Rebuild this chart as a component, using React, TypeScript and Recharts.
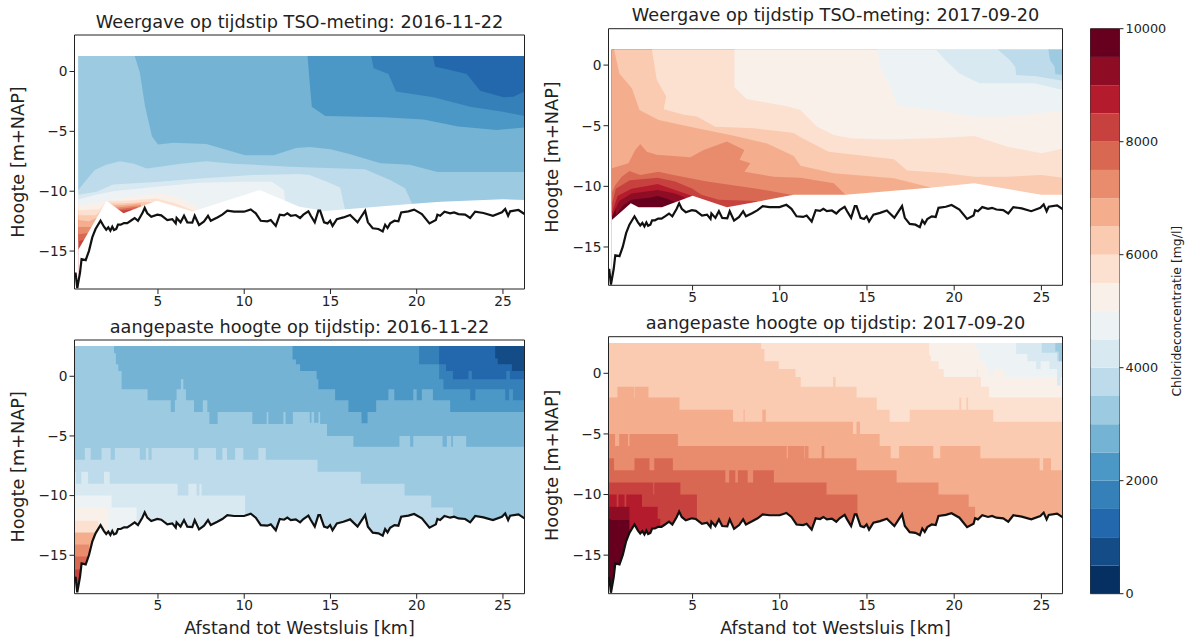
import { Area, Bar, BarChart, ComposedChart, Line, ReferenceArea, XAxis, YAxis } from 'recharts';

type Pt = [number, number];

const WIDTH = 1192;
const HEIGHT = 643;
const FONT = '"DejaVu Sans", sans-serif';
const INK = '#222';

// RdBu_r, 20 levels of 500 mg/l
const LEVEL_COLORS = [
  '#053061', '#144c88', '#2368ad', '#3580b9', '#4b98c6', '#75b3d4', '#9ccae1', '#bddbea', '#d9e9f1', '#edf2f5',
  '#f9f0ea', '#fce1d1', '#facab1', '#f5ae8d', '#e98c6e', '#d96853', '#c7423f', '#b41c2d', '#8e0d25', '#67001f',
];
const COLORBAR_STEP = [500];
const COLORBAR_TICKS = [0, 2000, 4000, 6000, 8000, 10000];
const X_TICKS = [5, 10, 15, 20, 25];
const Y_TICKS = [0, -5, -10, -15];

const FLOOR = -18.1; // contour runs down to the bed

const bed: Pt[] = [
  [0.18, -17.2], [0.22, -16.8], [0.32, -18.1], [0.48, -16.8], [0.57, -15.68], [0.81, -15.76], [1.0, -14.98], [1.19, -13.86],
  [1.38, -13.16], [1.67, -12.47], [1.87, -12.97], [2.0, -13.22], [2.12, -13.02], [2.24, -13.3], [2.35, -12.97], [2.45, -13.25],
  [2.58, -13.16], [2.68, -12.8], [2.84, -12.8], [3.03, -12.66], [3.22, -12.66], [3.42, -12.47], [3.65, -12.24], [3.84, -12.47],
  [4.09, -11.85], [4.23, -11.4], [4.38, -11.85], [4.61, -12.13], [4.96, -11.96], [5.19, -12.02], [5.54, -12.41], [5.83, -12.33],
  [6.03, -12.69], [6.08, -12.24], [6.31, -12.6], [6.51, -12.05], [6.7, -12.6], [6.99, -12.63], [7.13, -12.05], [7.38, -12.83],
  [7.67, -12.52], [7.9, -12.05], [8.06, -12.47], [8.44, -12.19], [8.73, -11.96], [9.02, -11.63], [9.41, -11.71], [9.99, -11.71],
  [10.38, -11.52], [10.67, -11.85], [10.96, -12.47], [11.34, -12.52], [11.54, -12.41], [11.83, -12.9], [12.06, -11.96],
  [12.31, -12.02], [12.5, -11.85], [12.7, -12.05], [12.99, -11.99], [13.24, -12.24], [13.43, -11.96], [13.72, -11.68],
  [13.86, -12.05], [14.09, -12.6], [14.3, -11.63], [14.4, -11.63], [14.63, -12.6], [14.83, -12.69], [14.98, -12.47], [15.12, -12.9],
  [15.37, -12.33], [15.75, -12.19], [16.14, -11.99], [16.57, -12.6], [17.01, -11.63], [17.17, -12.6], [17.45, -13.1], [17.78, -13.16],
  [18.03, -13.36], [18.17, -12.8], [18.31, -13.08], [18.46, -12.69], [18.71, -12.47], [18.94, -12.52], [19.1, -11.77], [19.52, -11.68],
  [19.85, -11.54], [20.3, -11.91], [20.74, -12.69], [21.11, -12.41], [21.2, -11.96], [21.36, -12.05], [21.61, -11.71], [21.94, -11.85],
  [22.17, -11.77], [22.42, -11.91], [22.81, -11.96], [23.1, -12.24], [23.39, -11.71], [23.87, -11.82], [24.42, -12.05], [24.94, -11.77],
  [25.13, -11.49], [25.3, -12.05], [25.42, -11.68], [25.9, -11.57], [26.25, -11.91],
];

// lower edge of the interpolated grid in the top panels
const hull2016: Pt[] = [
  [0.38, -14.9], [2.02, -10.8], [3, -11.85], [4.92, -10.8], [7, -11.7], [10.9, -9.9], [13.2, -11.3], [14.7, -11.66],
  [19.6, -11.07], [21.4, -10.88], [25, -10.68], [26.25, -10.74],
];
const hull2017: Pt[] = [
  [0.37, -12.77], [1.46, -11.4], [1.9, -11.73], [3.24, -11.73], [5, -10.77], [6.97, -11.73], [10.8, -10.7], [13.77, -10.7],
  [18.76, -10.1], [21.15, -9.75], [25, -10.7], [26.25, -10.7],
];

// 2016 measured: contour lower edges per colour level
const tl2: Pt[] = [[20.94, 1.3], [21.07, 0.4], [21.75, 0.18], [22.9, -0.2], [23.68, -1.6], [25.03, -2.16], [25.6, -2.1], [26.25, -1.68]];
const tl3: Pt[] = [[17.36, 1.3], [17.5, 0.27], [18.36, -0.2], [18.8, -1.68], [20.97, -2.16], [23.1, -2.94], [25, -3.36], [26.25, -3.72]];
const tl4: Pt[] = [[13.67, 1.3], [13.8, -1], [13.92, -2.94], [14.7, -3.72], [18.07, -3.83], [20.4, -4], [22.4, -4.6], [24.65, -4.89], [26.25, -4.67]];
const tl5: Pt[] = [
  [3.65, 1.3], [3.95, -0.1], [4.25, -2.9], [4.65, -5.4], [5, -6.1], [5.9, -5.95], [7.8, -6.05], [10.05, -7], [11.7, -7], [13, -6.4],
  [13.8, -6.3], [15, -6.5], [16.1, -6.9], [17.9, -7.67], [19.6, -7.8], [21.2, -8.4], [26.25, -8.4],
];
const tl6: Pt[] = [
  [0.38, -9.9], [0.82, -9.1], [1.35, -8.2], [2, -7.8], [2.8, -7.5], [3.6, -7.7], [4.35, -8.1], [5.1, -7.95], [6.3, -7.7], [7.8, -7.5],
  [9.4, -7.7], [12.66, -7.95], [17, -8.17], [18.46, -9.07], [19.33, -9.76], [19.72, -11], [19.75, FLOOR], [26.25, FLOOR],
];
const tl7: Pt[] = [
  [0.38, -10.3], [1.44, -10.04], [2.4, -9.43], [5.1, -9.2], [7.4, -8.93], [10.5, -8.65], [13.2, -8.56], [13.8, -8.65], [14.8, -9.2],
  [15.56, -9.68], [15.85, -11.6], [15.9, FLOOR], [26.25, FLOOR],
];
const tl8: Pt[] = [[0.38, -10.7], [1.4, -10.3], [2.4, -10], [5.1, -9.6], [7.4, -9.3], [10, -9.2], [11.6, -9.2], [12.3, -9.9], [12.4, -11.1], [12.45, FLOOR], [26.25, FLOOR]];
const tl9: Pt[] = [[0.38, -11.2], [1.4, -11], [2, -10.8], [3, -10.55], [5, -10.2], [6, -10.4], [7.3, -11.3], [7.4, FLOOR], [26.25, FLOOR]];
const tl10: Pt[] = [[0.38, -11.6], [1.6, -11.5], [2.1, -10.8], [3, -10.8], [4.9, -10.6], [6, -11], [7.2, -11.7], [7.3, FLOOR], [26.25, FLOOR]];
const tl11: Pt[] = [[0.38, -12], [1.4, -12], [2.1, -11], [3, -11], [4.2, -10.9], [5, -10.9], [5.4, FLOOR], [26.25, FLOOR]];
const tl12: Pt[] = [[0.38, -12.4], [1, -12.5], [1.5, -12.2], [2.2, -11.2], [3, -11.15], [4, -11], [4.7, FLOOR], [26.25, FLOOR]];
const tl13: Pt[] = [[0.38, -13], [1.1, -13], [2.3, -11.4], [3, -11.3], [4, -11.15], [4.4, FLOOR], [26.25, FLOOR]];
const tl14: Pt[] = [[0.38, -13.6], [1, -13.5], [2.5, -11.5], [3, -11.45], [3.8, -11.3], [4.1, FLOOR], [26.25, FLOOR]];
const tl15: Pt[] = [[0.38, -14.2], [0.8, -14], [2.6, -11.6], [3, -11.6], [3.5, -11.5], [3.7, FLOOR], [26.25, FLOOR]];
const tl16: Pt[] = [[0.38, FLOOR], [26.25, FLOOR]];

// 2017 measured
const tr6: Pt[] = [[25.4, 1.29], [25.5, 0.4], [25.75, -0.1], [25.8, -0.75], [26.25, -0.8]];
const tr7: Pt[] = [[22.5, 1.29], [23.2, 0.4], [23.5, -0.14], [23.55, -0.82], [24.6, -0.9], [26.25, -1.3]];
const tr8: Pt[] = [[18.95, 1.29], [19.5, 0.4], [20.3, -0.7], [21.44, -1.5], [24.6, -1.5], [26.25, -2.06]];
const tr9: Pt[] = [[15.6, 1.29], [15.8, -0.4], [16.27, -1.5], [16.75, -3.35], [18.85, -3.7], [21.15, -4.26], [23.07, -4.26], [26.25, -3.76]];
const tr10: Pt[] = [
  [7.4, 1.29], [7.4, -1.8], [8.1, -2.8], [10.4, -3.4], [11.19, -3.7], [12.15, -5.08], [13.1, -5.77], [14.06, -6.04], [16, -6.13],
  [18.85, -6.04], [21.15, -5.85], [23.07, -6.73], [25, -7.28], [26.25, -6.87],
];
const tr11: Pt[] = [
  [2.67, 1.29], [2.95, -1.24], [3.49, -2.6], [3.34, -3.65], [4.5, -4.1], [5.25, -4.25], [6.3, -5.08], [8.5, -5.2], [10.8, -5.6],
  [11.19, -5.96], [12.8, -7.14], [16.55, -7.77], [17.3, -8.7], [19.4, -8.9], [21.15, -9.2], [23.07, -9.2], [25, -9.07], [26.25, -9.3],
];
const tr12: Pt[] = [
  [0.5, 1.29], [0.8, -0.7], [1.52, -1.92], [1.96, -3.7], [3.05, -4.53], [5.25, -5.2], [7.17, -5.77], [9.27, -6.46], [10.8, -7.5], [11.19, -8.3],
  [13.1, -8.93], [16.55, -9.34], [18.66, -10.1], [18.7, FLOOR], [26.25, FLOOR],
];
const tr13: Pt[] = [
  [0.37, -8.5], [1.32, -8.1], [1.71, -7], [2, -6.5], [2.38, -7.14], [2.95, -7.4], [4.87, -7.6], [5.63, -7], [6.97, -6.3], [7.97, -7],
  [7.7, -7.8], [8.32, -8.1], [7.97, -8.8], [9.66, -9.2], [11.19, -9.3], [13.1, -9.75], [13.77, -10.7], [13.8, FLOOR], [26.25, FLOOR],
];
const tr14: Pt[] = [[0.37, -10.5], [0.56, -9.9], [0.94, -9.2], [1.38, -8.74], [2, -9.07], [3.05, -8.8], [3.91, -9.07], [5.83, -9.6], [8.7, -10.2], [10.9, -10.75], [10.95, FLOOR], [26.25, FLOOR]];
const tr15: Pt[] = [[0.37, -11.5], [0.6, -10.2], [1.4, -9.5], [3, -9.3], [4, -9.6], [5, -10.2], [5.5, -10.7], [6.5, -11.1], [8.7, -11.2], [9, FLOOR], [26.25, FLOOR]];
const tr16: Pt[] = [[0.37, -12.2], [0.7, -10.8], [1.5, -10.2], [3, -9.8], [4, -10.3], [5, -10.8], [5.1, FLOOR], [26.25, FLOOR]];
const tr17: Pt[] = [[0.37, -12.5], [0.8, -11.2], [1.5, -10.6], [3, -10.3], [4, -10.6], [4.7, -11], [4.9, FLOOR], [26.25, FLOOR]];
const tr18: Pt[] = [[0.6, -12.4], [1, -11.6], [1.5, -11.1], [2.5, -10.95], [3, -10.8], [3.5, -11], [4, -11.3], [4.4, FLOOR], [26.25, FLOOR]];
const tr19: Pt[] = [[0.37, FLOOR], [26.25, FLOOR]];

// 2016 adjusted height, stepped: each y holds from its x to the next x
const bl1: Pt[] = [[24.55, 1.5], [24.7, 1], [25.52, 0.45]];
const bl2: Pt[] = [[21.3, 1], [21.7, 0.45], [22.1, -0.25], [23, 0.45], [23.2, -0.25], [25.2, 0.45], [25.4, -0.25]];
const bl3: Pt[] = [[20.14, 1], [21.3, -0.25], [21.55, -1.09], [23.1, -2], [23.4, -1.09], [25.13, -2], [25.36, -1.09], [25.58, -2]];
const bl4: Pt[] = [
  [12.8, 1.4], [13, 1], [13.24, 0.45], [14.2, -0.25], [14.3, -1.09], [15.27, -2], [16.04, -3], [16.8, -3.94], [17.15, -3], [17.65, -2],
  [18.36, -1.09], [18.7, -2], [19.8, -1.09], [20, -2], [20.3, -1.09], [20.94, -2], [21.94, -3],
];
const bl5: Pt[] = [
  [2.45, 1.93], [2.56, 1], [2.7, 0.45], [2.89, -1.09], [4.4, -2], [5.74, -3], [5.98, -2], [6.08, -1.09], [6.33, -0.25], [6.47, -1.09],
  [6.62, -2], [7.09, -3], [7.6, -2], [7.86, -3], [7.98, -4], [8.46, -3], [10.47, -4], [11.3, -3], [11.4, -4], [12.27, -3], [12.4, -4],
  [12.82, -3], [13.8, -3.9], [13.9, -3], [14.05, -3.9], [14.3, -3], [14.4, -4], [14.8, -5], [15.17, -5], [16.33, -5.9], [19, -5], [19.62, -5.9],
  [19.8, -5], [21.5, -5.9], [21.75, -5], [22, -5.9], [22.1, -5], [22.87, -5.9],
];
const bl6: Pt[] = [
  [0.16, -7], [0.76, -6], [1.1, -7], [1.73, -6], [2.26, -7], [2.5, -6], [3.95, -7], [4.3, -6], [4.45, -7], [4.63, -6], [7.09, -7], [7.34, -6],
  [8.37, -7], [8.73, -6], [9, -7], [9.47, -6], [9.95, -7], [10.82, -6], [11.25, -7], [14.25, -8], [16.76, -9], [19.3, -10], [20.84, -11], [22.1, FLOOR],
];
const bl7: Pt[] = [[0.16, -8], [0.25, -9], [0.55, -8], [0.95, -9], [1.87, -8], [2.2, -9], [6.14, -10], [6.76, -9], [7.24, -10], [7.4, -9], [7.53, -10], [10.05, FLOOR]];
const bl8: Pt[] = [[0.16, -10], [2.31, -11], [3.76, FLOOR]];
const bl9: Pt[] = [[0.16, -11], [2.12, FLOOR]];
const bl10: Pt[] = [[0.16, -12.1], [1.54, FLOOR]];
const bl11: Pt[] = [[0.16, -13.1], [1.3, FLOOR]];
const bl13: Pt[] = [[0.16, -14.1], [1, FLOOR]];
const bl14: Pt[] = [[0.16, -15.1], [0.9, FLOOR]];
const bl15: Pt[] = [[0.16, -16.2], [0.7, FLOOR]];
const bl16: Pt[] = [[0.16, FLOOR]];

// 2017 adjusted height, stepped
const br6: Pt[] = [[25.8, 1.8], [26, 1]];
const br7: Pt[] = [[25.02, 1.7], [25.9, 1]];
const br8: Pt[] = [[23.55, 1.6], [24.2, 1], [24.7, 0.35], [24.95, 1], [25.46, 0.35], [25.9, -1], [26.1, -0.3]];
const br9: Pt[] = [[21.19, 2], [21.45, 1], [21.8, 0.4], [22, -0.3], [22.2, 0.35], [22.9, -0.3], [25.9, -1], [26.1, -0.3]];
const br10: Pt[] = [[18.56, 1.5], [18.66, 1], [19.1, 0.35], [19.4, -0.3], [21.3, 0.35], [21.35, -0.3], [21.53, -1.1], [22, -2]];
const br11: Pt[] = [
  [8.93, 2], [9.05, 2], [9.12, 1], [9.94, 0.35], [10.9, -0.3], [11.2, -1.1], [13.05, -0.3], [13.2, -1.1], [14.4, -2], [15.56, -3], [16.3, -4],
  [17.45, -3], [20.3, -2], [20.4, -3], [20.7, -2], [20.8, -3], [22.24, -4],
];
const br12: Pt[] = [
  [0.16, -2], [0.69, -1.1], [1.67, -2], [1.7, -1.1], [2.47, -2], [4.25, -3], [7.32, -4], [7.93, -3], [7.98, -4], [9, -3], [9.2, -4], [14.2, -5],
  [14.4, -4], [14.6, -5], [15.73, -6], [16.36, -7], [16.84, -6], [18.8, -7], [19.2, -6], [21.5, -7], [24.9, -8], [25.1, -7], [25.55, -8],
];
const br13: Pt[] = [
  [0.16, -5], [0.56, -6], [0.79, -5], [1.3, -6], [1.38, -5], [4.16, -6], [10.4, -7], [10.46, -6], [11.4, -7], [11.43, -6], [11.65, -7], [12.4, -6],
  [12.55, -7], [14.4, -8], [16.7, -9], [19.1, -10], [20.83, -11], [21.2, FLOOR],
];
const br14: Pt[] = [
  [0.16, -7], [0.5, -8], [1.67, -7], [2.53, -8], [2.8, -7], [3.87, -8], [6.88, -9], [7.1, -8], [7.45, -9], [7.6, -8], [8.16, -9], [8.47, -8], [9.66, -9],
  [12.68, -10], [14.45, FLOOR],
];
const br15: Pt[] = [[0.16, -9], [2.75, -10], [2.8, -9], [4.3, -10], [5.25, FLOOR]];
const br16: Pt[] = [[0.16, -10], [0.65, -11], [0.75, -10], [1.1, -11], [1.2, -10], [2.1, -11], [3, -12], [3.15, FLOOR]];
const br17: Pt[] = [[0.16, -11], [1.38, FLOOR]];
const br18: Pt[] = [[0.16, -12], [0.3, -12.1], [1.5, FLOOR]];
const br19: Pt[] = [[0.16, FLOOR]];

const toRows = (pts: Pt[]) => pts.map(([x, y]) => ({ x, y }));
const closeSteps = (pts: Pt[], xEnd: number) => [...pts, [xEnd, pts[pts.length - 1][1]] as Pt];

interface Band {
  level: number;
  pts: Pt[];
}

interface PanelProps {
  title: string;
  box: { left: number; right: number; top: number; bottom: number };
  xDomain: [number, number];
  yDomain: [number, number];
  gridTop: number;
  bands: Band[];
  mask: Pt[];
  stepped?: boolean;
  xLabel?: string;
}

function Panel({ title, box, xDomain, yDomain, gridTop, bands, mask, stepped, xLabel }: PanelProps) {
  const midX = (box.left + box.right) / 2;
  const midY = (box.top + box.bottom) / 2;
  const labelX = box.left - 56.5;
  return (
    <div style={{ position: 'absolute', left: 0, top: 0 }}>
      <ComposedChart
        width={WIDTH}
        height={HEIGHT}
        margin={{ left: box.left - 60, right: WIDTH - box.right, top: box.top, bottom: HEIGHT - box.bottom - 30 }}
      >
        <XAxis
          type="number"
          dataKey="x"
          domain={xDomain}
          ticks={X_TICKS}
          allowDataOverflow
          height={30}
          axisLine={false}
          tickLine={{ stroke: INK }}
          tickSize={5}
          tick={{ fill: INK, fontSize: 13.7, fontFamily: FONT }}
        />
        <YAxis
          type="number"
          domain={yDomain}
          ticks={Y_TICKS}
          allowDataOverflow
          width={60}
          axisLine={false}
          tickLine={{ stroke: INK }}
          tickSize={5}
          tickFormatter={(v: number) => String(v).replace('-', '\u2212')}
          tick={{ fill: INK, fontSize: 13.7, fontFamily: FONT }}
        />
        {bands.map((b) => (
          <Area
            key={b.level}
            data={toRows(stepped ? closeSteps(b.pts, xDomain[1]) : b.pts)}
            dataKey="y"
            baseValue={gridTop}
            type={stepped ? 'stepAfter' : 'linear'}
            fill={LEVEL_COLORS[b.level]}
            fillOpacity={1}
            stroke="none"
            dot={false}
            activeDot={false}
            isAnimationActive={false}
          />
        ))}
        <Area
          data={toRows(mask)}
          dataKey="y"
          baseValue={yDomain[0]}
          type="linear"
          fill="#ffffff"
          fillOpacity={1}
          stroke="none"
          dot={false}
          activeDot={false}
          isAnimationActive={false}
        />
        <Line
          data={toRows(bed)}
          dataKey="y"
          type="linear"
          stroke="#111"
          strokeWidth={2.2}
          dot={false}
          activeDot={false}
          isAnimationActive={false}
        />
        <ReferenceArea
          x1={xDomain[0]}
          x2={xDomain[1]}
          y1={yDomain[0]}
          y2={yDomain[1]}
          fill="none"
          stroke={INK}
          strokeWidth={1}
          ifOverflow="visible"
        />
        <text x={midX} y={box.top - 7.5} textAnchor="middle" fontSize={17.7} fontFamily={FONT} fill={INK}>
          {title}
        </text>
        <text
          x={labelX}
          y={midY}
          textAnchor="middle"
          dominantBaseline="central"
          fontSize={17.7}
          fontFamily={FONT}
          fill={INK}
          transform={`rotate(-90 ${labelX} ${midY})`}
        >
          Hoogte [m+NAP]
        </text>
        {xLabel && (
          <text x={midX} y={box.bottom + 40} textAnchor="middle" fontSize={17.5} fontFamily={FONT} fill={INK}>
            {xLabel}
          </text>
        )}
      </ComposedChart>
    </div>
  );
}

function Colorbar() {
  const row: Record<string, number | string> = { name: 'cb' };
  LEVEL_COLORS.forEach((_, i) => {
    row[`l${i}`] = COLORBAR_STEP[0];
  });
  const box = { left: 1090.5, right: 1119.5, top: 28.7, bottom: 593.7 };
  const labelX = 1177;
  const midY = (box.top + box.bottom) / 2;
  return (
    <div style={{ position: 'absolute', left: 0, top: 0 }}>
      <BarChart
        width={WIDTH}
        height={HEIGHT}
        data={[row]}
        barCategoryGap={0}
        margin={{ left: box.left, right: WIDTH - box.right - 60, top: box.top, bottom: HEIGHT - box.bottom }}
      >
        <XAxis dataKey="name" hide />
        <YAxis
          orientation="right"
          type="number"
          domain={[0, 10000]}
          ticks={COLORBAR_TICKS}
          width={60}
          axisLine={false}
          tickLine={{ stroke: INK }}
          tickSize={4}
          tick={{ fill: INK, fontSize: 12.8, fontFamily: FONT }}
        />
        {LEVEL_COLORS.map((c, i) => (
          <Bar key={c} dataKey={`l${i}`} stackId="cb" fill={c} isAnimationActive={false} />
        ))}
        <ReferenceArea
          y1={0}
          y2={10000}
          fill="none"
          stroke="#333"
          strokeWidth={1}
          ifOverflow="visible"
        />
        <text
          x={labelX}
          y={midY}
          textAnchor="middle"
          dominantBaseline="central"
          fontSize={12.4}
          fontFamily={FONT}
          fill={INK}
          transform={`rotate(-90 ${labelX} ${midY})`}
        >
          Chlorideconcentratie [mg/l]
        </text>
      </BarChart>
    </div>
  );
}

const tlBands: Band[] = [
  { level: 16, pts: tl16 }, { level: 15, pts: tl15 }, { level: 14, pts: tl14 }, { level: 13, pts: tl13 }, { level: 12, pts: tl12 },
  { level: 11, pts: tl11 }, { level: 10, pts: tl10 }, { level: 9, pts: tl9 }, { level: 8, pts: tl8 }, { level: 7, pts: tl7 },
  { level: 6, pts: tl6 }, { level: 5, pts: tl5 }, { level: 4, pts: tl4 }, { level: 3, pts: tl3 }, { level: 2, pts: tl2 },
];
const trBands: Band[] = [
  { level: 19, pts: tr19 }, { level: 18, pts: tr18 }, { level: 17, pts: tr17 }, { level: 16, pts: tr16 }, { level: 15, pts: tr15 },
  { level: 14, pts: tr14 }, { level: 13, pts: tr13 }, { level: 12, pts: tr12 }, { level: 11, pts: tr11 }, { level: 10, pts: tr10 },
  { level: 9, pts: tr9 }, { level: 8, pts: tr8 }, { level: 7, pts: tr7 }, { level: 6, pts: tr6 },
];
const blBands: Band[] = [
  { level: 16, pts: bl16 }, { level: 15, pts: bl15 }, { level: 14, pts: bl14 }, { level: 13, pts: bl13 }, { level: 11, pts: bl11 },
  { level: 10, pts: bl10 }, { level: 9, pts: bl9 }, { level: 8, pts: bl8 }, { level: 7, pts: bl7 }, { level: 6, pts: bl6 },
  { level: 5, pts: bl5 }, { level: 4, pts: bl4 }, { level: 3, pts: bl3 }, { level: 2, pts: bl2 }, { level: 1, pts: bl1 },
];
const brBands: Band[] = [
  { level: 19, pts: br19 }, { level: 18, pts: br18 }, { level: 17, pts: br17 }, { level: 16, pts: br16 }, { level: 15, pts: br15 },
  { level: 14, pts: br14 }, { level: 13, pts: br13 }, { level: 12, pts: br12 }, { level: 11, pts: br11 }, { level: 10, pts: br10 },
  { level: 9, pts: br9 }, { level: 8, pts: br8 }, { level: 7, pts: br7 }, { level: 6, pts: br6 },
];

export default function App() {
  return (
    <div style={{ position: 'absolute', left: 0, top: 0, width: WIDTH, height: HEIGHT, background: '#fff', overflow: 'hidden' }}>
      <Panel
        title="Weergave op tijdstip TSO-meting: 2016-11-22"
        box={{ left: 74.5, right: 524.5, top: 35, bottom: 289 }}
        xDomain={[0.16, 26.25]}
        yDomain={[-18.17, 3.05]}
        gridTop={1.3}
        bands={tlBands}
        mask={hull2016}
      />
      <Panel
        title="Weergave op tijdstip TSO-meting: 2017-09-20"
        box={{ left: 608.5, right: 1062.5, top: 28.7, bottom: 285.3 }}
        xDomain={[0.18, 26.21]}
        yDomain={[-18.16, 3.0]}
        gridTop={1.29}
        bands={trBands}
        mask={hull2017}
      />
      <Panel
        title="aangepaste hoogte op tijdstip: 2016-11-22"
        box={{ left: 74.5, right: 524.5, top: 340, bottom: 593.7 }}
        xDomain={[0.16, 26.25]}
        yDomain={[-18.22, 3.04]}
        gridTop={2.54}
        bands={blBands}
        mask={bed}
        stepped
        xLabel="Afstand tot Westsluis [km]"
      />
      <Panel
        title="aangepaste hoogte op tijdstip: 2017-09-20"
        box={{ left: 608.5, right: 1062.5, top: 336.7, bottom: 593.7 }}
        xDomain={[0.18, 26.21]}
        yDomain={[-18.18, 3.02]}
        gridTop={2.5}
        bands={brBands}
        mask={bed}
        stepped
        xLabel="Afstand tot Westsluis [km]"
      />
      <Colorbar />
    </div>
  );
}
